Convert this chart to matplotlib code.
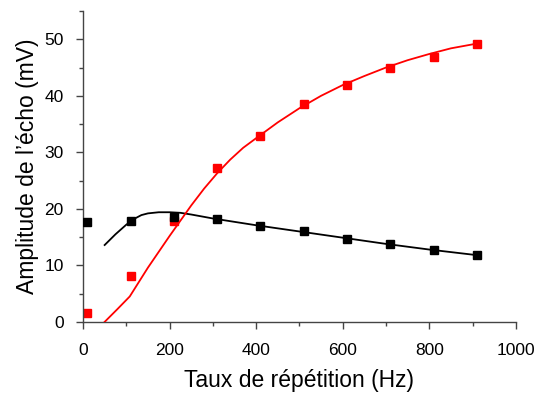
import matplotlib
matplotlib.use('Agg')
import matplotlib.pyplot as plt
from matplotlib.ticker import MultipleLocator

plt.rcParams['font.family'] = ['Liberation Sans', 'DejaVu Sans']

# measured points
rate_hz = [10, 110, 210, 310, 410, 510, 610, 710, 810, 910]
amp_black = [17.6, 17.8, 18.6, 18.2, 17.0, 16.0, 14.6, 13.7, 12.7, 11.8]
amp_red = [1.6, 8.1, 17.9, 27.2, 32.9, 38.6, 42.0, 45.0, 46.8, 49.2]

# fitted curves
fit_x_black = [50, 75, 100, 120, 135, 150, 175, 200, 225, 250, 300, 400, 500,
               600, 700, 800, 900, 910]
fit_black = [13.6, 15.5, 17.2, 18.3, 18.9, 19.2, 19.4, 19.4, 19.3, 19.0, 18.3,
             17.1, 16.0, 14.9, 13.8, 12.8, 11.9, 11.8]
fit_x_red = [50, 80, 108, 150, 200, 250, 280, 310, 340, 370, 400, 450, 500,
             550, 600, 650, 700, 750, 800, 850, 900, 910]
fit_red = [0.0, 2.3, 4.5, 9.6, 15.2, 20.6, 23.6, 26.3, 28.7, 30.8, 32.5, 35.3,
           37.8, 40.0, 41.9, 43.5, 45.0, 46.3, 47.4, 48.4, 49.1, 49.2]

fig = plt.figure(figsize=(5.39, 3.94), dpi=100)
ax = fig.add_axes([0.154, 0.183, 0.803, 0.789])

ax.plot(rate_hz, amp_red, 's', color='#ff0000', markersize=6, zorder=2)
ax.plot(rate_hz, amp_black, 's', color='black', markersize=6, zorder=3)
ax.plot(fit_x_black, fit_black, '-', color='black', lw=1.3, zorder=4)
ax.plot(fit_x_red, fit_red, '-', color='#ff0000', lw=1.3, zorder=5)

ax.set_xlim(0, 1000)
ax.set_ylim(0, 55)
ax.set_yticks([0, 10, 20, 30, 40, 50])
ax.xaxis.set_major_locator(MultipleLocator(200))
ax.xaxis.set_minor_locator(MultipleLocator(100))
ax.yaxis.set_minor_locator(MultipleLocator(5))

for side in ['top', 'right']:
    ax.spines[side].set_visible(False)
for side in ['left', 'bottom']:
    ax.spines[side].set_color('#444444')
    ax.spines[side].set_linewidth(1.0)

ax.tick_params(which='major', direction='out', length=5, width=1.0,
               color='#444444', labelsize=12.5)
ax.tick_params(which='minor', direction='out', length=3, width=1.0, color='#444444')
ax.tick_params(axis='x', pad=10)
ax.tick_params(axis='y', pad=9)

ax.set_xlabel('Taux de répétition (Hz)', fontsize=16.5, labelpad=8)
ax.set_ylabel('Amplitude de l’écho (mV)', fontsize=16.5, labelpad=4)

fig.savefig('out.png', dpi=100)
